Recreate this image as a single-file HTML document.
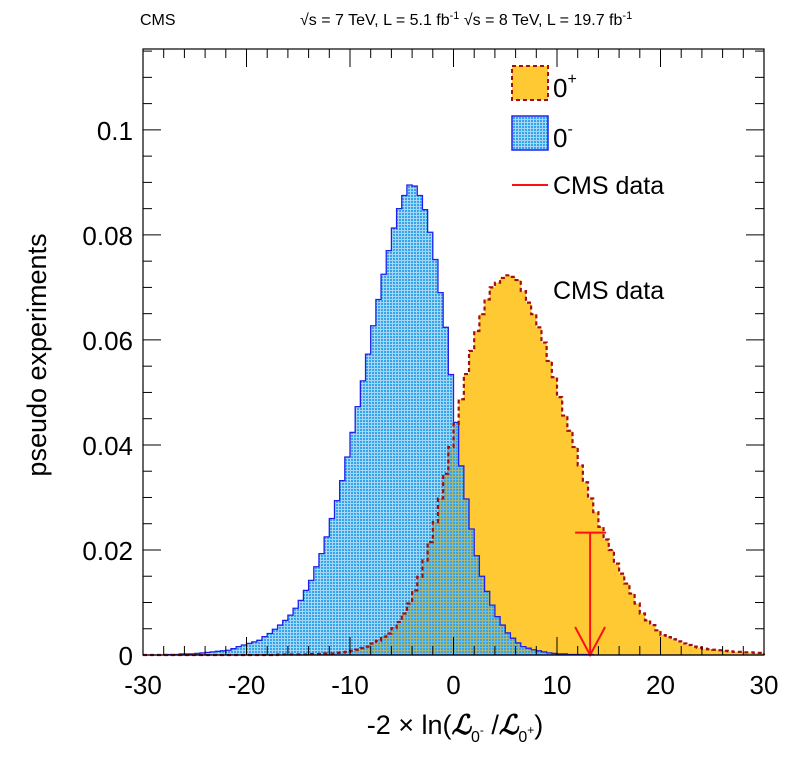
<!DOCTYPE html>
<html><head><meta charset="utf-8"><style>
body{margin:0;background:#fff;}
svg text{font-family:"Liberation Sans",sans-serif;}
</style></head><body>
<svg id="chart" width="795" height="760" viewBox="0 0 795 760" xmlns="http://www.w3.org/2000/svg">
<defs>
<pattern id="bluePat" width="3" height="3" patternUnits="userSpaceOnUse">
<rect x="0" y="0" width="2" height="2" fill="#35a4ea"/>
<rect x="2" y="0" width="1" height="3" fill="#35a4ea" fill-opacity="0.45"/>
<rect x="0" y="2" width="2" height="1" fill="#35a4ea" fill-opacity="0.45"/>
</pattern>
</defs>
<g id="plot"></g>
<text x="140" y="25" font-size="16">CMS</text>
<text x="300" y="25" font-size="16">√s = 7 TeV, L = 5.1 fb<tspan dy="-6" font-size="11">-1</tspan><tspan dy="6"> √s = 8 TeV, L = 19.7 fb</tspan><tspan dy="-6" font-size="11">-1</tspan></text>
<text transform="translate(46,355) rotate(-90)" text-anchor="middle" font-size="27">pseudo experiments</text>
<text x="455" y="734" text-anchor="middle" font-size="27">-2 × ln(<tspan font-style="italic" font-family="Liberation Serif" font-weight="bold">ℒ</tspan><tspan dy="8" font-size="16">0</tspan><tspan dy="-8" font-size="12">-</tspan> /<tspan font-style="italic" font-family="Liberation Serif" font-weight="bold">ℒ</tspan><tspan dy="8" font-size="16">0</tspan><tspan dy="-8" font-size="12">+</tspan>)</text>
<g>
<rect x="512" y="66" width="36" height="34" fill="#ffc933" stroke="#a01010" stroke-width="2" stroke-dasharray="4,3"/>
<text x="553" y="97" font-size="26">0<tspan dy="-13" font-size="16">+</tspan></text>
<rect x="512" y="116" width="36" height="34" fill="url(#bluePat)" stroke="#2020ee" stroke-width="1.5"/>
<text x="553" y="147" font-size="26">0<tspan dy="-13" font-size="16">-</tspan></text>
<line x1="512" y1="185" x2="548" y2="185" stroke="#ff1010" stroke-width="2"/>
<text x="553" y="194" font-size="25">CMS data</text>
</g>
<text x="553" y="299" font-size="25">CMS data</text>
</svg>
<script>
const xMin = -30, xMax = 30, binWidth = 0.5;
const yMax = 0.1154;
const xTicks = [-30, -20, -10, 0, 10, 20, 30];
const yTicks = [0, 0.02, 0.04, 0.06, 0.08, 0.1];
const yTickLabels = ["0", "0.02", "0.04", "0.06", "0.08", "0.1"];
const blueValues = [
0,0,0,0,0.0001,0.0001,0.0001,0.0002,0.0002,0.0002,
0.0003,0.0004,0.0005,0.0006,0.0007,0.0008,0.0009,0.0012,0.0016,0.0019,
0.0022,0.0025,0.0028,0.0035,0.0041,0.0049,0.0057,0.0066,0.0076,0.0089,
0.0104,0.0123,0.0142,0.0168,0.0193,0.0225,0.0260,0.0294,0.0332,0.0377,
0.0424,0.0473,0.0522,0.0573,0.0627,0.0677,0.0725,0.0770,0.0813,0.0850,
0.0875,0.0895,0.0893,0.0875,0.0848,0.0805,0.0753,0.0690,0.0624,0.0534,
0.0443,0.0360,0.0297,0.0240,0.0189,0.0150,0.0121,0.0095,0.0073,0.0057,
0.0042,0.0032,0.0023,0.0016,0.0013,0.0010,0.0008,0.0006,0.0004,0.0003,
0.0002,0.0002,0.0001,0.0001,0.0001,0.0001,0.0001,0,0,0,
0,0,0,0,0,0,0,0,0,0,
0,0,0,0,0,0,0,0,0,0,
0,0,0,0,0,0,0,0,0,0];
const orangeValues = [
0,0,0,0,0,0,0,0,0,0,
0,0,0,0,0,0,0,0,0,0,
0,0,0,0,0,0,0.0001,0.0001,0.0001,0.0001,
0.0001,0.0001,0.0002,0.0002,0.0002,0.0003,0.0003,0.0004,0.0005,0.0006,
0.0008,0.0010,0.0013,0.0016,0.0022,0.0027,0.0035,0.0041,0.0051,0.0063,
0.0079,0.0098,0.0123,0.0149,0.0180,0.0215,0.0253,0.0298,0.0345,0.0396,
0.0440,0.0487,0.0535,0.0579,0.0617,0.0649,0.0677,0.0700,0.0709,0.0718,
0.0723,0.0720,0.0714,0.0693,0.0671,0.0649,0.0624,0.0595,0.0560,0.0529,
0.0491,0.0456,0.0427,0.0396,0.0361,0.0329,0.0298,0.0272,0.0244,0.0220,
0.0200,0.0174,0.0155,0.0136,0.0117,0.0098,0.0079,0.0066,0.0057,0.0047,
0.0038,0.0034,0.0030,0.0026,0.0022,0.0019,0.0016,0.0014,0.0012,0.0011,
0.0010,0.0009,0.0008,0.0007,0.0006,0.0006,0.0005,0.0005,0.0004,0.0004];
const dataX = 13.2;
const dataY = 0.0233;

const L = 143, R = 764, T = 49, B = 655;
const NS = "http://www.w3.org/2000/svg";
const sx = v => L + (v - xMin) / (xMax - xMin) * (R - L);
const sy = v => B - v / yMax * (B - T);
const g = document.getElementById('plot');
function mk(tag, attrs) {
  const e = document.createElementNS(NS, tag);
  for (const k in attrs) e.setAttribute(k, attrs[k]);
  g.appendChild(e);
  return e;
}
function histPath(vals) {
  let d = "M" + sx(xMin) + "," + sy(0);
  vals.forEach((v, i) => {
    const x0 = sx(xMin + i * binWidth), x1 = sx(xMin + (i + 1) * binWidth);
    d += " L" + x0 + "," + sy(v) + " L" + x1 + "," + sy(v);
  });
  d += " L" + sx(xMin + vals.length * binWidth) + "," + sy(0);
  return d;
}
const fo = mk('path', {d: histPath(orangeValues) + " Z", fill: "#ffc933", stroke: "none"});


const fb = mk('path', {d: histPath(blueValues) + " Z", fill: "url(#bluePat)", stroke: "#2020ee", "stroke-width": 1.3});


const so = mk('path', {d: histPath(orangeValues), fill: "none", stroke: "#a01010", "stroke-width": 2.2, "stroke-dasharray": "4,3"});



const ex = sx(dataX);
const dl = mk('line', {x1: ex, y1: sy(dataY), x2: ex, y2: sy(0), stroke: "#ff1010", "stroke-width": 2});


const dc = mk('line', {x1: ex - 15, y1: sy(dataY), x2: ex + 16, y2: sy(dataY), stroke: "#ff1010", "stroke-width": 2});


const da = mk('polyline', {points: (ex-15)+","+(sy(0)-28)+" "+ex+","+sy(0)+" "+(ex+15)+","+(sy(0)-28), fill: "none", stroke: "#ff1010", "stroke-width": 2});



const fr = mk('rect', {x: L, y: T, width: R - L, height: B - T, fill: "none", stroke: "#000", "stroke-width": 1.2});



for (let v = xMin; v <= xMax + 1e-9; v += 2) {
  const major = Math.abs(v % 10) < 1e-9;
  const len = major ? 18 : 9;
  const x = sx(v);
  const t1 = mk('line', {x1: x, y1: B, x2: x, y2: B - len, stroke: "#000", "stroke-width": 1});
  
  
  const t2 = mk('line', {x1: x, y1: T, x2: x, y2: T + len, stroke: "#000", "stroke-width": 1});
  
  
}
xTicks.forEach(v => {
  const t = mk('text', {x: sx(v), y: B + 39, "text-anchor": "middle", "font-size": 26});
  t.textContent = String(v);
  
  
});
for (let v = 0; v <= yMax + 1e-9; v += 0.005) {
  const major = Math.abs(v / 0.02 - Math.round(v / 0.02)) < 1e-6;
  const len = major ? 18 : 9;
  const y = sy(v);
  const t1 = mk('line', {x1: L, y1: y, x2: L + len, y2: y, stroke: "#000", "stroke-width": 1});
  
  
  const t2 = mk('line', {x1: R, y1: y, x2: R - len, y2: y, stroke: "#000", "stroke-width": 1});
  
  
}
yTicks.forEach((v, i) => {
  const t = mk('text', {x: L - 10, y: sy(v) + 10, "text-anchor": "end", "font-size": 26});
  t.textContent = yTickLabels[i];
  
  
});
</script>
</body></html>
